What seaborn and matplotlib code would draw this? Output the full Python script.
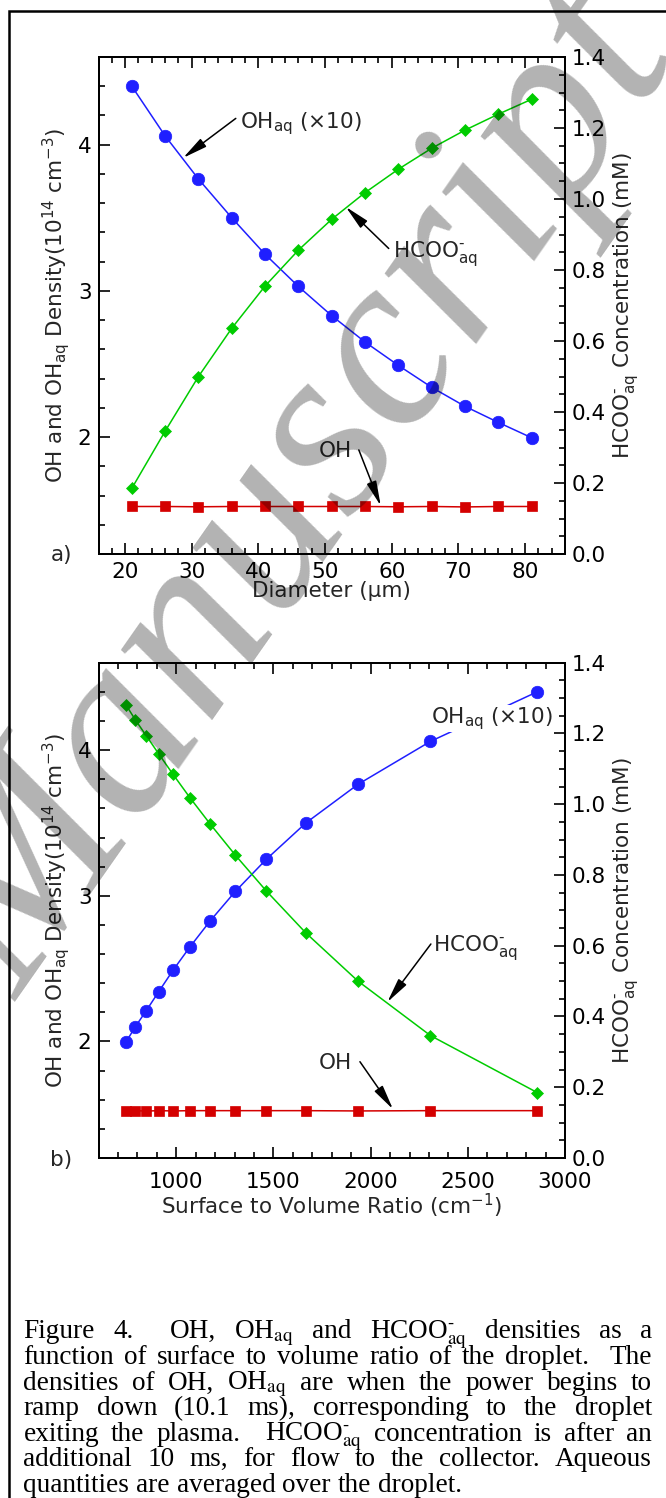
import numpy as np
import pandas as pd
import matplotlib
matplotlib.use("Agg")
import matplotlib.pyplot as plt
import seaborn as sns
from matplotlib.ticker import MultipleLocator, FormatStrFormatter
from matplotlib.patches import Rectangle

# ---------------- data ----------------
diameter_um = [21, 26, 31, 36, 41, 46, 51, 56, 61, 66, 71, 76, 81]
surface_to_volume = [2857, 2308, 1935, 1667, 1463, 1304, 1176, 1071, 984, 909, 845, 789, 741]
oh_aq_x10 = [4.40, 4.06, 3.765, 3.50, 3.25, 3.03, 2.83, 2.65, 2.49, 2.34, 2.21, 2.10, 1.995]
hcoo_aq_mM = [0.185, 0.346, 0.500, 0.636, 0.755, 0.856, 0.943, 1.018, 1.084, 1.143, 1.194, 1.239, 1.281]
oh_density = [1.525, 1.525, 1.523, 1.525, 1.525, 1.525, 1.525, 1.525, 1.523, 1.525, 1.522, 1.525, 1.525]

BLUE = "#1f1fff"
GREEN = "#00cc00"
RED = "#d40000"

sns.set_theme(style="ticks")
plt.rcParams["font.family"] = ["DejaVu Sans"]
plt.rcParams["mathtext.fontset"] = "dejavusans"
plt.rcParams["mathtext.default"] = "regular"
plt.rcParams["axes.linewidth"] = 1.4
plt.rcParams["axes.edgecolor"] = "black"

W, H = 666, 1498
fig = plt.figure(figsize=(W / 100, H / 100), dpi=100)
fig.patch.set_facecolor("white")
renderer = fig.canvas.get_renderer()


def minus_ok():
    t = fig.text(0, 0, r"x$^{\text{-}}$", math_fontfamily="stix")
    try:
        t.get_window_extent(renderer)
        ok = True
    except Exception:
        ok = False
    t.remove()
    return ok


SUP_MINUS = r"^{\text{-}}" if minus_ok() else r"^{-}"

left_ylabel = r"OH and OH$_{aq}$ Density(10$^{14}$ cm$^{-3}$)"
right_ylabel = "HCOO$" + SUP_MINUS + r"_{aq}$ Concentration (mM)"
xlabel_a = "Diameter (\u03bcm)"
xlabel_b = r"Surface to Volume Ratio (cm$^{-1}$)"
ohaq_label = "OH$_{aq}$ (\u00d710)"
hcoo_label = "HCOO$" + SUP_MINUS + "_{aq}$"

HC = "HCOO$" + SUP_MINUS + r"_{\mathrm{aq}}$"
OHC = r"OH$_{\mathrm{aq}}$"
caption_lines = [
    "Figure 4.  OH, " + OHC + " and " + HC + " densities as a",
    "function of surface to volume ratio of the droplet.  The",
    "densities of OH, " + OHC + " are when the power begins to",
    "ramp down (10.1 ms), corresponding to the droplet",
    "exiting the plasma.  " + HC + " concentration is after an",
    "additional 10 ms, for flow to the collector. Aqueous",
    "quantities are averaged over the droplet.",
]


def px_axes(l, t, r, b):
    return [l / W, 1 - b / H, (r - l) / W, (b - t) / H]


FS = 15.5
ax_a = fig.add_axes(px_axes(98.5, 57, 565, 554))
ax_b = fig.add_axes(px_axes(98.5, 662.7, 565, 1158))


def draw_panel(ax, xvals, xlim, xmajor, xminor, xlabel, xpad, xlab_y):
    ax2 = ax.twinx()
    df = pd.DataFrame({"x": xvals, "ohaq": oh_aq_x10, "oh": oh_density, "hcoo": hcoo_aq_mM})
    sns.lineplot(data=df, x="x", y="ohaq", ax=ax, color=BLUE, marker="o", markersize=9,
                 markeredgecolor=BLUE, markeredgewidth=0.5, linewidth=1.1, sort=False)
    sns.lineplot(data=df, x="x", y="oh", ax=ax, color=RED, marker="s", markersize=7.6,
                 markeredgecolor=RED, markeredgewidth=0.5, linewidth=1.1, sort=False)
    sns.lineplot(data=df, x="x", y="hcoo", ax=ax2, color=GREEN, marker="D", markersize=6.6,
                 markeredgecolor=GREEN, markeredgewidth=0.5, linewidth=1.1, sort=False)

    ax.set_xlim(*xlim)
    ax.set_ylim(1.2, 4.6)
    ax2.set_ylim(0.0, 1.4)
    ax.xaxis.set_major_locator(MultipleLocator(xmajor))
    ax.xaxis.set_minor_locator(MultipleLocator(xminor))
    ax.yaxis.set_major_locator(MultipleLocator(1))
    ax.yaxis.set_minor_locator(MultipleLocator(0.2))
    ax2.yaxis.set_major_locator(MultipleLocator(0.2))
    ax2.yaxis.set_minor_locator(MultipleLocator(0.05))
    ax2.yaxis.set_major_formatter(FormatStrFormatter("%.1f"))

    ax.tick_params(axis="x", which="both", direction="in", top=True, bottom=True,
                   labelsize=FS, pad=xpad, colors="black")
    ax.tick_params(axis="y", which="both", direction="in", left=True, right=False,
                   labelsize=FS, pad=5, colors="black")
    ax2.tick_params(axis="y", which="both", direction="in", right=True, left=False,
                    labelsize=FS, pad=5, colors="black")
    for a in (ax, ax2):
        a.tick_params(which="major", length=8, width=1.2)
        a.tick_params(which="minor", length=4.3, width=1.2)
        for s in a.spines.values():
            s.set_linewidth(1.4)
            s.set_color("black")
        a.grid(False)
        a.set_facecolor("none")
    ax.set_facecolor("white")

    ax.set_xlabel(xlabel, fontsize=FS)
    ax.xaxis.set_label_coords(0.5, xlab_y)
    ax.set_ylabel(left_ylabel, fontsize=FS)
    ax.yaxis.set_label_coords(-0.057, 0.5)
    ax2.set_ylabel(right_ylabel, fontsize=FS)
    ax2.yaxis.set_label_coords(1.101, 0.5)
    return ax2


arrow_kw = dict(arrowstyle="-|>,head_length=1.0,head_width=0.2", color="black",
                lw=1.1, shrinkA=0, shrinkB=0, mutation_scale=15)

# panel a
ax2_a = draw_panel(ax_a, diameter_um, (16, 86), 10, 2, xlabel_a, 6.0, -0.054)
ax_a.text(37.3, 4.11, ohaq_label, fontsize=FS, va="baseline", ha="left")
ax_a.annotate("", xy=(28.7, 3.91), xytext=(36.6, 4.18), arrowprops=arrow_kw)
ax_a.text(60.15, 3.225, hcoo_label, fontsize=FS, va="baseline", ha="left")
ax_a.annotate("", xy=(53.1, 3.575), xytext=(59.55, 3.29), arrowprops=arrow_kw)
ax_a.text(49.0, 1.862, "OH", fontsize=FS, va="baseline", ha="left")
ax_a.annotate("", xy=(58.35, 1.53), xytext=(55.06, 1.912), arrowprops=arrow_kw)

# panel b
ax2_b = draw_panel(ax_b, surface_to_volume, (600, 3000), 500, 100, xlabel_b, 10.0, -0.068)
ax_b.text(2311, 4.185, ohaq_label, fontsize=FS, va="baseline", ha="left",
          zorder=5, bbox=dict(facecolor="white", edgecolor="none", pad=0))
ax_b.text(2322, 2.612, hcoo_label, fontsize=FS, va="baseline", ha="left")
ax_b.annotate("", xy=(2086, 2.27), xytext=(2310, 2.669), arrowprops=arrow_kw)
ax_b.text(1732, 1.814, "OH", fontsize=FS, va="baseline", ha="left")
ax_b.annotate("", xy=(2115, 1.535), xytext=(1945, 1.861), arrowprops=arrow_kw)

fig.text(62 / W, 1 - 555 / H, "a)", fontsize=FS, ha="center", va="center")
fig.text(61.5 / W, 1 - 1160 / H, "b)", fontsize=FS, ha="center", va="center")

# frame
fig.patches.append(Rectangle((9 / W, -0.05), 1.2, 1 - 11 / H + 0.05, transform=fig.transFigure,
                             fill=False, edgecolor="black", linewidth=1.8, zorder=1))

# caption (justified)
CAP_FS = 19.6
cap_left, cap_right = 23.4, 652.0
baselines = [1338.3 + 25.6 * i for i in range(len(caption_lines))]
t1 = fig.text(0, 0, "a a", fontsize=CAP_FS, family="Liberation Serif")
t2 = fig.text(0, 0, "aa", fontsize=CAP_FS, family="Liberation Serif")
space_w = t1.get_window_extent(renderer).width - t2.get_window_extent(renderer).width
t1.remove(); t2.remove()
for i, line in enumerate(caption_lines):
    tokens = line.split(" ")
    words, gaps = [], []
    pending = 0
    for tok in tokens:
        if tok == "":
            pending += 1
            continue
        if words:
            gaps.append(1 + pending)
        pending = 0
        words.append(tok)
    arts = [fig.text(0, 1 - baselines[i] / H, w, fontsize=CAP_FS, family="Liberation Serif",
                     math_fontfamily="stix", va="baseline", ha="left", color="black") for w in words]
    widths = [a.get_window_extent(renderer).width for a in arts]
    last = i == len(caption_lines) - 1
    if last or not gaps:
        unit = space_w
    else:
        unit = (cap_right - cap_left - sum(widths)) / sum(gaps)
    x = cap_left
    for j, (a, wdt) in enumerate(zip(arts, widths)):
        a.set_x(x / W)
        x += wdt
        if j < len(gaps):
            x += unit * gaps[j]

# watermark
fig.text(300 / W, 1 - 495 / H, "Manuscript", fontsize=180, family="Liberation Serif",
         style="italic", color="black", alpha=0.3, rotation=55, rotation_mode="anchor",
         ha="center", va="center", zorder=20)

fig.savefig("out.png", dpi=100, facecolor="white")
